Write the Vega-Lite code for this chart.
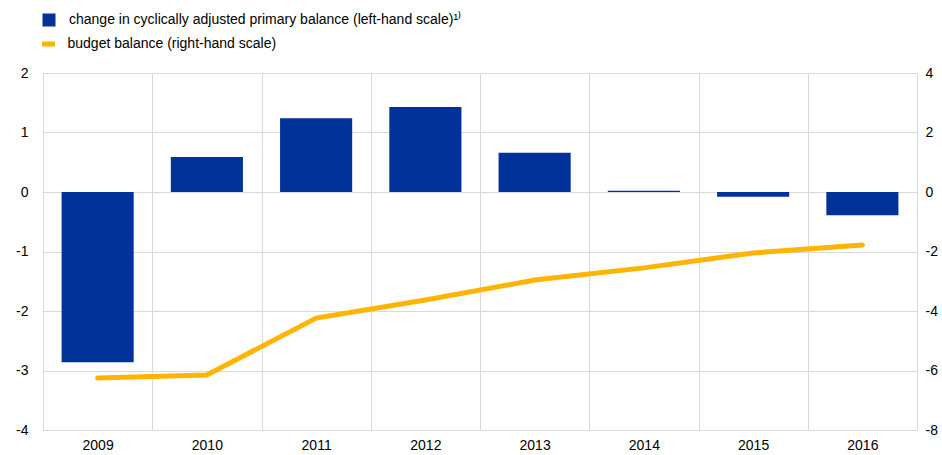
{
  "$schema": "https://vega.github.io/schema/vega-lite/v6.json",
  "description": "Change in cyclically adjusted primary balance and budget balance",
  "width": 874,
  "height": 357,
  "autosize": {"type": "none"},
  "padding": {"left": 43, "top": 73, "right": 25, "bottom": 25},
  "background": "white",
  "config": {
    "font": "Liberation Sans",
    "view": {"stroke": null},
    "axis": {
      "labelFont": "Liberation Sans",
      "labelFontSize": 14,
      "labelColor": "#000000",
      "domain": false,
      "ticks": false,
      "gridColor": "#d9d9d9",
      "gridWidth": 1
    },
    "legend": {
      "labelFont": "Liberation Sans",
      "labelFontSize": 14,
      "labelColor": "#000000",
      "labelLimit": 600,
      "labelOffset": 14,
      "padding": 0
    }
  },
  "data": {
    "values": [
      {"year": "2009", "cab": -2.86, "bb": -6.25},
      {"year": "2010", "cab": 0.59, "bb": -6.15},
      {"year": "2011", "cab": 1.24, "bb": -4.24},
      {"year": "2012", "cab": 1.43, "bb": -3.63},
      {"year": "2013", "cab": 0.66, "bb": -2.96},
      {"year": "2014", "cab": 0.02, "bb": -2.55},
      {"year": "2015", "cab": -0.08, "bb": -2.05},
      {"year": "2016", "cab": -0.39, "bb": -1.78}
    ]
  },
  "encoding": {
    "x": {
      "field": "year",
      "type": "ordinal",
      "scale": {"paddingInner": 0, "paddingOuter": 0},
      "axis": {
        "title": null,
        "labelAngle": 0,
        "grid": true,
        "tickBand": "extent",
        "labelPadding": 8
      }
    }
  },
  "layer": [
    {
      "layer": [
        {
          "mark": {"type": "bar", "color": "#003299", "width": {"band": 0.66}},
          "encoding": {
            "y": {
              "field": "cab",
              "type": "quantitative",
              "scale": {"domain": [-4, 2], "nice": false},
              "axis": {
                "title": null,
                "grid": true,
                "values": [-4, -3, -2, -1, 0, 1, 2],
                "labelExpr": "'' + datum.value",
                "labelPadding": 15
              }
            },
            "color": {
              "datum": "change in cyclically adjusted primary balance (left-hand scale)¹⁾",
              "scale": {"range": ["#003299"]},
              "legend": {
                "title": null,
                "orient": "none",
                "legendX": -1,
                "legendY": -60,
                "symbolType": "square",
                "symbolSize": 169,
                "symbolStrokeWidth": 0,
                "labelOffset": 13
              }
            }
          }
        },
        {
          "mark": {"type": "rule", "color": "#7f7f7f", "strokeWidth": 1},
          "encoding": {"y": {"datum": 0}}
        }
      ]
    },
    {
      "mark": {"type": "line", "strokeWidth": 5, "strokeCap": "round"},
      "encoding": {
        "y": {
          "field": "bb",
          "type": "quantitative",
          "scale": {"domain": [-8, 4], "nice": false},
          "axis": {
            "title": null,
            "orient": "right",
            "grid": false,
            "values": [-8, -6, -4, -2, 0, 2, 4],
            "labelExpr": "'' + datum.value",
            "labelPadding": 8
          }
        },
        "stroke": {
          "datum": "budget balance (right-hand scale)",
          "scale": {"range": ["#FFB400"]},
          "legend": {
            "title": null,
            "orient": "none",
            "legendX": -3.5,
            "legendY": -38,
            "symbolType": "stroke",
            "symbolSize": 169,
            "symbolStrokeWidth": 5,
            "labelOffset": 10
          }
        }
      }
    }
  ],
  "resolve": {"scale": {"y": "independent"}}
}
